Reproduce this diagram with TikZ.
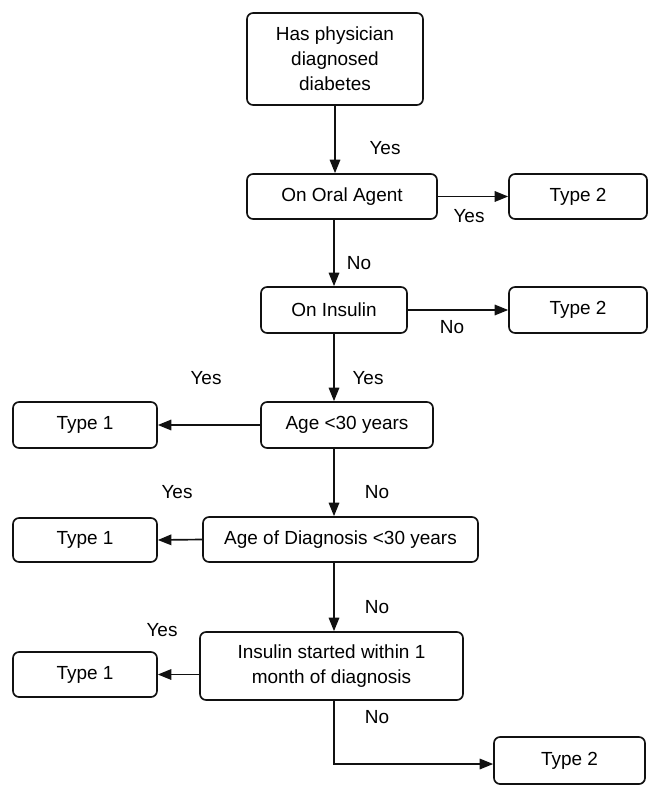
\documentclass[tikz,border=0pt]{standalone}
\usepackage{fontspec}
\setmainfont{Liberation Sans}
\usepackage{tikz}
\usetikzlibrary{arrows.meta,positioning,calc}
\definecolor{ln}{HTML}{111111}

\begin{document}
\begin{tikzpicture}[x=0.02cm, y=-0.02cm,
  box/.style={draw=ln, line width=0.95pt, rounded corners=0.12cm, align=center, inner sep=0pt, font=\fontsize{10.8}{14.2}\selectfont},
  lbl/.style={font=\fontsize{10.8}{13}\selectfont, inner sep=0pt},
  arr/.style={draw=ln, line width=0.95pt, -{Triangle[length=0.27cm,width=0.21cm]}}]
  \useasboundingbox (0,0) rectangle (650,786);
  \node[box, minimum width=3.52cm, minimum height=1.84cm] (diag) at (335,59) {Has physician\\diagnosed\\diabetes};
  \node[box, minimum width=3.8cm, minimum height=0.9cm] (oral) at (342,196.5) {On Oral Agent};
  \node[box, minimum width=2.76cm, minimum height=0.9cm] (typeA) at (578,196.5) {Type 2};
  \node[box, minimum width=2.92cm, minimum height=0.92cm] (insulin) at (334,310) {On Insulin};
  \node[box, minimum width=2.76cm, minimum height=0.92cm] (typeB) at (578,310) {Type 2};
  \node[box, minimum width=3.44cm, minimum height=0.92cm] (age) at (347,425) {Age <30 years};
  \node[box, minimum width=2.88cm, minimum height=0.92cm] (typeC) at (85,425) {Type 1};
  \node[box, minimum width=5.5cm, minimum height=0.9cm] (agediag) at (340.5,539.5) {Age of Diagnosis <30 years};
  \node[box, minimum width=2.88cm, minimum height=0.88cm] (typeD) at (85,540) {Type 1};
  \node[box, minimum width=5.26cm, minimum height=1.36cm] (started) at (331.5,666) {Insulin started within 1\\month of diagnosis};
  \node[box, minimum width=2.88cm, minimum height=0.9cm] (typeE) at (85,674.5) {Type 1};
  \node[box, minimum width=3.02cm, minimum height=0.94cm] (typeF) at (569.5,760.5) {Type 2};

  \draw[arr] (diag.south) -- (diag.south |- oral.north);
  \draw[arr] (oral.east) -- (typeA.west);
  \draw[arr] (oral.south -| insulin.north) -- (insulin.north);
  \draw[arr] (insulin.east) -- (typeB.west);
  \draw[arr] (insulin.south) -- (insulin.south |- age.north);
  \draw[arr] (age.west) -- (typeC.east);
  \draw[arr] (age.south -| insulin.south) -- (agediag.north -| insulin.south);
  \draw[arr] (agediag.west) -- (typeD.east);
  \draw[arr] (agediag.south -| insulin.south) -- (started.north -| insulin.south);
  \draw[arr] (typeE.east -| started.west) -- (typeE.east);
  \draw[arr] (started.south -| insulin.south) |- ($(typeF.west)+(0,3.5)$);

  \node[lbl] (yesA) at (385,148) {Yes};
  \node[lbl] (yesB) at (469,216) {Yes};
  \node[lbl] (noA) at (359,263) {No};
  \node[lbl] (noB) at (452,327) {No};
  \node[lbl] (yesC) at (206,378) {Yes};
  \node[lbl] (yesD) at (368,378) {Yes};
  \node[lbl] (yesE) at (177,492) {Yes};
  \node[lbl] (noC) at (377,492) {No};
  \node[lbl] (noD) at (377,607) {No};
  \node[lbl] (yesF) at (162,630) {Yes};
  \node[lbl] (noE) at (377,717) {No};
\end{tikzpicture}
\end{document}
